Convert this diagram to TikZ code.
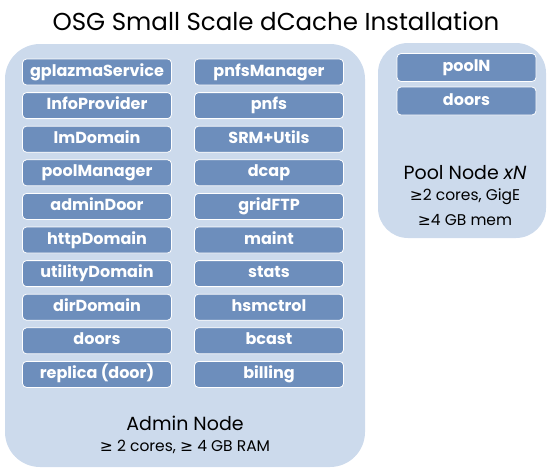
\documentclass[tikz,border=0pt]{standalone}
\usepackage{fontspec}
\setmainfont{Poppins}
\newfontfamily\symfont{DejaVu Sans}
\usetikzlibrary{positioning}
\definecolor{hostfill}{HTML}{CCDAEC}
\definecolor{cellfill}{HTML}{6D8EBC}
\newcommand{\atleast}{{\symfont\char"2265}}

\begin{document}
\begin{tikzpicture}[x=1pt,y=-1pt,node distance=33.6pt,
                    cell/.style={rectangle,rounded corners=4pt,draw=white,line width=0.8pt,
                                 fill=cellfill,text=white,minimum width=149pt,minimum height=26pt,
                                 inner sep=0pt,text height=11pt,text depth=3pt,
                                 font=\fontsize{16}{16}\selectfont\bfseries},
                    poolcell/.style={cell,minimum width=139pt,minimum height=28pt},
                    caption/.style={font=\fontsize{19}{19}\selectfont},
                    spec/.style={font=\fontsize{15.5}{15.5}\selectfont}]
  \useasboundingbox (0,0) rectangle (553,474);

  % hosts
  \fill[hostfill,rounded corners=35pt] (5,44) rectangle (365,467);
  \fill[hostfill,rounded corners=30pt] (378,43) rectangle (546,238);

  \node (title) at (276,21) {\fontsize{24.5}{24.5}\selectfont OSG Small Scale dCache Installation};

  % admin node, left column
  \node[cell] (gplazma) at (97,72) {gplazmaService};
  \node[cell] (info) [below of=gplazma] {InfoProvider};
  \node[cell] (lm) [below of=info] {lmDomain};
  \node[cell] (poolmgr) [below of=lm] {poolManager};
  \node[cell] (admdoor) [below of=poolmgr] {adminDoor};
  \node[cell] (http) [below of=admdoor] {httpDomain};
  \node[cell] (utility) [below of=http] {utilityDomain};
  \node[cell] (dir) [below of=utility] {dirDomain};
  \node[cell] (doors) [below of=dir] {doors};
  \node[cell] (replica) [below of=doors] {replica (door)};

  % admin node, right column
  \node[cell] (pnfsmgr) at (269,72) {pnfsManager};
  \node[cell] (pnfs) [below of=pnfsmgr] {pnfs};
  \node[cell] (srm) [below of=pnfs] {SRM+Utils};
  \node[cell] (dcap) [below of=srm] {dcap};
  \node[cell] (gridftp) [below of=dcap] {gridFTP};
  \node[cell] (maint) [below of=gridftp] {maint};
  \node[cell] (stats) [below of=maint] {stats};
  \node[cell] (hsm) [below of=stats] {hsmctrol};
  \node[cell] (bcast) [below of=hsm] {bcast};
  \node[cell] (billing) [below of=bcast] {billing};

  \node[caption] (admin) at (185,423) {Admin Node};
  \node[spec] (adminspec) at (185,447) {\atleast\ 2 cores, \atleast\ 4 GB RAM};

  % pool node
  \node[poolcell] (pooln) at (466.5,67.5) {poolN};
  \node[poolcell] (pdoors) [below of=pooln,node distance=33.5pt] {doors};

  \node[caption] (pool) at (465,173) {Pool Node \textit{xN}};
  \node[spec] (poolcpu) at (465,197) {\atleast2 cores, GigE};
  \node[spec] (poolmem) at (465,220) {\atleast4 GB mem};
\end{tikzpicture}
\end{document}
